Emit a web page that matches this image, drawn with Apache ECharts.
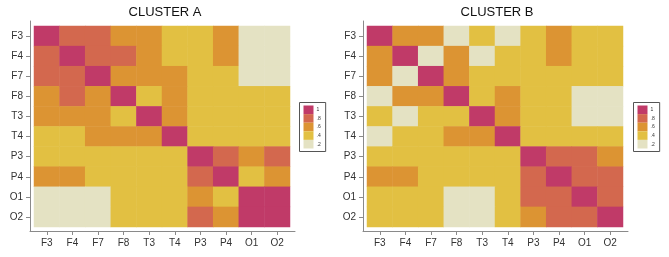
<!DOCTYPE html>
<html>
<head>
<meta charset="utf-8">
<script src="https://cdn.jsdelivr.net/npm/echarts@6/dist/echarts.min.js"></script>
<style>
  html, body { margin: 0; padding: 0; background: #fff; }
  #chart { width: 669px; height: 257px; }
</style>
</head>
<body>
<div id="chart"></div>
<script>
// channels, same order on both axes
const channels = ['F3', 'F4', 'F7', 'F8', 'T3', 'T4', 'P3', 'P4', 'O1', 'O2'];

// legend levels
const levels = [1, 0.8, 0.6, 0.4, 0.2];
const levelLabels = ['1', '.8', '.6', '.4', '.2'];
const levelColors = ['#c03a68', '#d3684e', '#dc9433', '#e2c042', '#e4e2c3'];

// cluster A, rows top to bottom
const clusterA = [
    [1, .8, .8, .6, .6, .4, .4, .6, .2, .2],
    [.8, 1, .8, .8, .6, .4, .4, .6, .2, .2],
    [.8, .8, 1, .6, .6, .6, .4, .4, .2, .2],
    [.6, .8, .6, 1, .4, .6, .4, .4, .4, .4],
    [.6, .6, .6, .4, 1, .6, .4, .4, .4, .4],
    [.4, .4, .6, .6, .6, 1, .4, .4, .4, .4],
    [.4, .4, .4, .4, .4, .4, 1, .8, .6, .8],
    [.6, .6, .4, .4, .4, .4, .8, 1, .4, .6],
    [.2, .2, .2, .4, .4, .4, .6, .4, 1, 1],
    [.2, .2, .2, .4, .4, .4, .8, .6, 1, 1]
];

// cluster B, rows top to bottom
const clusterB = [
    [1, .6, .6, .2, .4, .2, .4, .6, .4, .4],
    [.6, 1, .2, .6, .2, .4, .4, .6, .4, .4],
    [.6, .2, 1, .6, .4, .4, .4, .4, .4, .4],
    [.2, .6, .6, 1, .4, .6, .4, .4, .2, .2],
    [.4, .2, .4, .4, 1, .6, .4, .4, .2, .2],
    [.2, .4, .4, .6, .6, 1, .4, .4, .4, .4],
    [.4, .4, .4, .4, .4, .4, 1, .8, .8, .6],
    [.6, .6, .4, .4, .4, .4, .8, 1, .8, .8],
    [.4, .4, .4, .2, .2, .4, .8, .8, 1, .8],
    [.4, .4, .4, .2, .2, .4, .6, .8, .8, 1]
];

const titles = ['CLUSTER A', 'CLUSTER B'];

function toCells(matrix) {
    let cells = [];
    for (let r = 0; r < matrix.length; r++) {
        for (let c = 0; c < matrix[r].length; c++) {
            cells.push([c, r, matrix[r][c]]);
        }
    }
    return cells;
}

const panels = [
    {left: 34, frameLeft: 30, titleX: 160, legendX: 299},
    {left: 367, frameLeft: 363, titleX: 492, legendX: 633}
];
const plotWidth = 256, plotTop = 26, plotHeight = 201;
const axisColor = '#8a8a8a';
const font = 'Liberation Sans, Arial, sans-serif';

let grid = [], xAxis = [], yAxis = [], series = [], visualMap = [], title = [];
[clusterA, clusterB].forEach(function (matrix, i) {
    const p = panels[i];
    // heatmap grid
    grid.push({left: p.left, top: plotTop, width: plotWidth, height: plotHeight});
    // frame grid, only for the long axis lines
    grid.push({left: p.frameLeft, top: 21, width: 265, height: 210});

    xAxis.push({
        type: 'category', gridIndex: i * 2, data: channels, offset: 4,
        axisLine: {show: false},
        axisTick: {show: true, alignWithLabel: true, length: 4, lineStyle: {color: axisColor}},
        axisLabel: {color: '#333', fontSize: 10, fontFamily: font, margin: 7},
        splitLine: {show: false}
    });
    yAxis.push({
        type: 'category', gridIndex: i * 2, data: channels, inverse: true, offset: 4,
        axisLine: {show: false},
        axisTick: {show: true, alignWithLabel: true, length: 4, lineStyle: {color: axisColor}},
        axisLabel: {color: '#333', fontSize: 10, fontFamily: font, margin: 7},
        splitLine: {show: false}
    });
    xAxis.push({
        type: 'value', gridIndex: i * 2 + 1, min: 0, max: 1,
        axisLine: {show: true, lineStyle: {color: axisColor}},
        axisTick: {show: false}, axisLabel: {show: false}, splitLine: {show: false}
    });
    yAxis.push({
        type: 'value', gridIndex: i * 2 + 1, min: 0, max: 1,
        axisLine: {show: true, lineStyle: {color: axisColor}},
        axisTick: {show: false}, axisLabel: {show: false}, splitLine: {show: false}
    });

    series.push({
        type: 'heatmap',
        xAxisIndex: i * 2,
        yAxisIndex: i * 2,
        data: toCells(matrix),
        emphasis: {disabled: true},
        itemStyle: {borderWidth: 0}
    });

    visualMap.push({
        type: 'piecewise',
        seriesIndex: i,
        dimension: 2,
        orient: 'vertical',
        align: 'left',
        left: p.legendX,
        top: 102,
        itemWidth: 10,
        itemHeight: 8.6,
        itemGap: 0,
        itemSymbol: 'rect',
        padding: [3, 5, 3, 4],
        borderColor: '#555',
        borderWidth: 1,
        showLabel: true,
        textGap: 3,
        textStyle: {fontSize: 5, color: '#333', fontFamily: font},
        pieces: levels.map(function (v, k) {
            return {value: v, label: levelLabels[k], color: levelColors[k]};
        })
    });

    title.push({
        text: titles[i],
        left: p.titleX,
        top: 1,
        textAlign: 'center',
        textStyle: {fontSize: 13, fontWeight: 'normal', color: '#111', fontFamily: font}
    });
});

const chart = echarts.init(document.getElementById('chart'), null, {renderer: 'canvas'});
chart.setOption({
    animation: false,
    title: title,
    grid: grid,
    xAxis: xAxis,
    yAxis: yAxis,
    visualMap: visualMap,
    series: series
});
</script>
</body>
</html>
